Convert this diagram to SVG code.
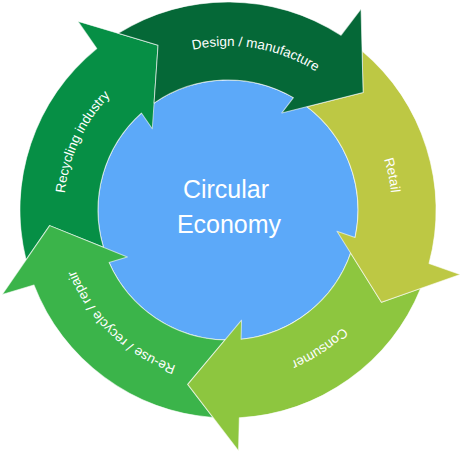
<svg xmlns="http://www.w3.org/2000/svg" xmlns:xlink="http://www.w3.org/1999/xlink" width="466" height="455" viewBox="0 0 466 455">
<style>
.arrow{stroke:#ffffff;stroke-width:1;stroke-opacity:0.6;stroke-linejoin:round}
.lbl{font-family:"Liberation Sans",Arial,sans-serif;font-size:13.5px;fill:#ffffff}
.ctr{font-family:"Liberation Sans",Arial,sans-serif;font-size:25px;fill:#ffffff;text-anchor:middle}
</style>
<defs>
<path id="arrowShape" d="M 86.69 -189.08 A 208 208 0 0 1 207.99 -2.21 L 241 0 L 172.5 47.83 L 110.66 -8.71 L 129.78 -7.43 A 130 130 0 0 0 48.36 -120.67 L 98.80 -149.27 Z"/>
<path id="pDesign" d="M 69.59 167.55 A 164 164 0 0 1 391.38 224.29"/>
<path id="pRetail" d="M 208.01 47.22 A 164 164 0 0 1 275.95 366.83"/>
<path id="pConsumer" d="M 372.13 131.75 A 164 164 0 0 1 99.65 312.09"/>
<path id="pReuse" d="M 336.67 332.83 A 164 164 0 0 1 99.65 107.91"/>
<path id="pRecycling" d="M 146 352.03 A 164 164 0 0 1 284.09 55.89"/>
</defs>
<g id="center">
<circle cx="228" cy="210" r="130" fill="#5CA9F9" stroke="#ffffff" stroke-opacity="0.6" stroke-width="1"/>
<text class="ctr" x="226" y="198">Circular</text>
<text class="ctr" x="229" y="233">Economy</text>
</g>
<g id="connectors"></g>
<g id="recycling-industry">
<use xlink:href="#arrowShape" href="#arrowShape" class="arrow" fill="#068F45" transform="translate(228 210) rotate(231.5)"/>
<text class="lbl"><textPath xlink:href="#pRecycling" href="#pRecycling" startOffset="50%" text-anchor="middle">Recycling industry</textPath></text>
</g>
<g id="reuse-recycle-repair">
<use xlink:href="#arrowShape" href="#arrowShape" class="arrow" fill="#3BB44A" transform="translate(228 210) rotate(159.5)"/>
<text class="lbl"><textPath xlink:href="#pReuse" href="#pReuse" startOffset="50%" text-anchor="middle">Re-use / recycle / repair</textPath></text>
</g>
<g id="consumer">
<use xlink:href="#arrowShape" href="#arrowShape" class="arrow" fill="#8DC63F" transform="translate(228 210) rotate(87.5)"/>
<text class="lbl"><textPath xlink:href="#pConsumer" href="#pConsumer" startOffset="50%" text-anchor="middle">Consumer</textPath></text>
</g>
<g id="retail">
<use xlink:href="#arrowShape" href="#arrowShape" class="arrow" fill="#BDC844" transform="translate(228 210) rotate(15.5)"/>
<text class="lbl"><textPath xlink:href="#pRetail" href="#pRetail" startOffset="50%" text-anchor="middle">Retail</textPath></text>
</g>
<g id="design-manufacture">
<use xlink:href="#arrowShape" href="#arrowShape" class="arrow" fill="#056837" transform="translate(228 210) rotate(-56.5)"/>
<text class="lbl"><textPath xlink:href="#pDesign" href="#pDesign" startOffset="50%" text-anchor="middle">Design / manufacture</textPath></text>
</g>
</svg>
